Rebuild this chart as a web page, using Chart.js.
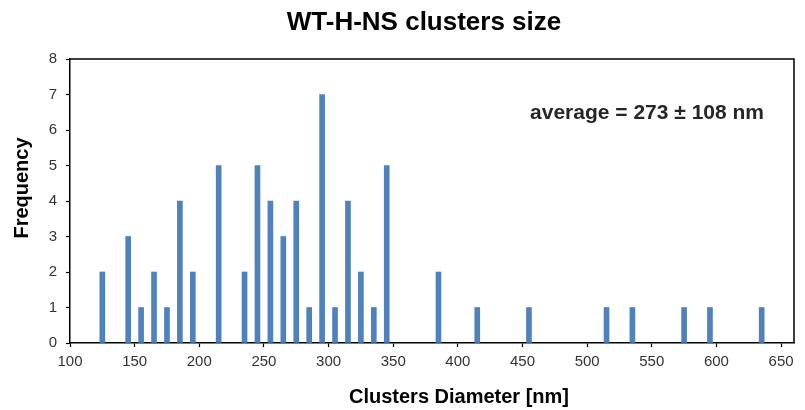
<!DOCTYPE html>
<html>
<head>
<meta charset="utf-8">
<title>WT-H-NS clusters size</title>
<script src="https://cdn.jsdelivr.net/npm/chart.js@4.4.1/dist/chart.umd.min.js"></script>
<style>
  body { margin: 0; background: #fff; }
  canvas { display: block; }
</style>
</head>
<body>
<canvas id="chart-area" width="805" height="410"></canvas>
<script>
// histogram bins (centre of each 10 nm bin) and counts
var binCenters = [125, 145, 155, 165, 175, 185, 195, 215, 235, 245, 255, 265, 275, 285,
  295, 305, 315, 325, 335, 345, 385, 415, 455, 515, 535, 575, 595, 635];
var frequency = [2, 3, 1, 2, 1, 4, 2, 5, 2, 5, 4, 3, 4, 1,
  7, 1, 4, 2, 1, 5, 2, 1, 1, 1, 1, 1, 1, 1];

var chartTitle = "WT-H-NS clusters size";
var xTitle = "Clusters Diameter [nm]";
var yTitle = "Frequency";
var averageText = "average = 273 \u00b1 108 nm";

var points = binCenters.map(function (x, i) {
  return { x: x, y: frequency[i] };
});

var fontFamily = "'Liberation Sans', Arial, sans-serif";

// closes the plot box and writes the titles / average label
var framePlugin = {
  id: "frame",
  afterDraw: function (chart) {
    var ctx = chart.ctx;
    var area = chart.chartArea;
    ctx.save();
    ctx.strokeStyle = "#000";
    ctx.lineWidth = 1.5;
    ctx.beginPath();
    ctx.moveTo(area.left, area.top);
    ctx.lineTo(area.right, area.top);
    ctx.lineTo(area.right, area.bottom);
    ctx.stroke();

    ctx.fillStyle = "#000";
    ctx.textBaseline = "alphabetic";

    ctx.font = "bold 26px " + fontFamily;
    ctx.textAlign = "center";
    ctx.fillText(chartTitle, 424, 30);

    ctx.font = "bold 20px " + fontFamily;
    ctx.fillText(xTitle, 459, 403);

    ctx.save();
    ctx.translate(28, 188);
    ctx.rotate(-Math.PI / 2);
    ctx.fillText(yTitle, 0, 0);
    ctx.restore();

    ctx.font = "bold 21px " + fontFamily;
    ctx.textAlign = "right";
    ctx.fillStyle = "#262626";
    ctx.fillText(averageText, area.right - 30, chart.scales.y.getPixelForValue(7) + 24);
    ctx.restore();
  },
};

var config = {
  type: "bar",
  data: {
    datasets: [
      {
        label: "count",
        data: points,
        backgroundColor: "#4F81BD",
        borderWidth: 0,
        barThickness: 5,
      },
    ],
  },
  options: {
    responsive: false,
    animation: false,
    layout: {
      padding: { top: 59, right: 11, bottom: 0, left: 0 },
    },
    plugins: {
      legend: { display: false },
      tooltip: { enabled: false },
      title: { display: false },
    },
    scales: {
      x: {
        type: "linear",
        min: 100,
        max: 660,
        offset: false,
        grid: {
          offset: false,
          drawOnChartArea: false,
          tickLength: 4,
          tickColor: "#000",
          tickWidth: 1.2,
        },
        border: { display: true, color: "#000", width: 1.5 },
        ticks: {
          stepSize: 50,
          includeBounds: false,
          maxRotation: 0,
          padding: 6,
          color: "#333",
          font: { family: fontFamily, size: 15 },
        },
        afterFit: function (scale) {
          scale.height = 67;
        },
      },
      y: {
        min: 0,
        max: 8,
        grid: {
          drawOnChartArea: false,
          tickLength: 4,
          tickColor: "#000",
          tickWidth: 1.2,
        },
        border: { display: true, color: "#000", width: 1.5 },
        ticks: {
          stepSize: 1,
          padding: 9,
          color: "#333",
          font: { family: fontFamily, size: 15 },
        },
        afterFit: function (scale) {
          scale.width = 70;
        },
      },
    },
  },
  plugins: [framePlugin],
};

var ctx = document.getElementById("chart-area").getContext("2d");
window.chart = new Chart(ctx, config);
</script>
</body>
</html>
